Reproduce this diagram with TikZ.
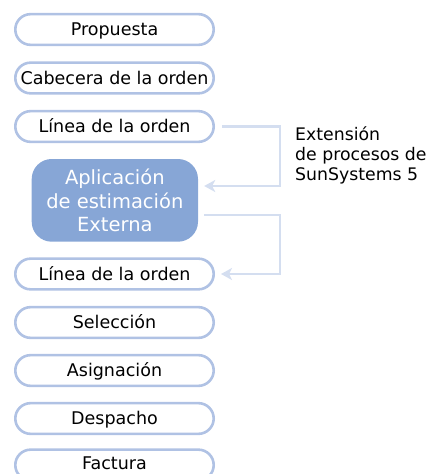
\documentclass[tikz,border=0pt]{standalone}
\usepackage{fontspec}
\setmainfont{DejaVu Sans}
\usepackage{tikz}
\usetikzlibrary{arrows.meta}
\definecolor{boxline}{RGB}{176,194,228}
\definecolor{appfill}{RGB}{135,166,214}
\definecolor{linkc}{RGB}{212,222,240}

\begin{document}
\begin{tikzpicture}[x=1pt,y=-1pt,
    paso/.style={draw=boxline,line width=2.6pt,rounded corners=15.3pt,fill=white,
      minimum width=198.4pt,minimum height=30.7pt,inner sep=0pt,
      font=\fontsize{17.5}{20}\selectfont,text height=14pt,text depth=1.4pt},
    app/.style={fill=appfill,rounded corners=20pt,minimum width=166.3pt,
      minimum height=82.7pt,inner sep=0pt,text=white,align=center,
      font=\fontsize{19.5}{23.7}\selectfont},
    link/.style={draw=linkc,line width=2.2pt,
      -{Stealth[length=11pt,width=12pt,inset=3pt]}}]
    \useasboundingbox (0,0) rectangle (430,474);
    \node[paso] (p) at (114.5, 29.5) {Propuesta};
    \node[paso] (c) at (114.5, 78) {Cabecera de la orden};
    \node[paso] (l1) at (114.5, 126.5) {Línea de la orden};
    \node[app] (ap) at (114.85, 200.35) {Aplicación\\de estimación\\Externa};
    \node[paso] (l2) at (114.5, 274) {Línea de la orden};
    \node[paso] (s) at (114.5, 322.5) {Selección};
    \node[paso] (as) at (114.5, 370.5) {Asignación};
    \node[paso] (d) at (114.5, 418.5) {Despacho};
    \node[paso,text height=8pt,text depth=0pt] (f) at (114.5, 465) {Factura};
    \node[anchor=west,align=left,inner sep=0pt,
      font=\fontsize{17.3}{20.2}\selectfont] (ext) at (295, 155.5)
      {Extensión\\de procesos de\\SunSystems 5};
    \coordinate (k1) at (280, 186);
    \coordinate (k2) at (280, 274);
    \draw [link] ([xshift=7pt]l1.east) -| (k1) -- ([xshift=6pt,yshift=14.35pt]ap.east);
    \draw [link] ([xshift=6pt,yshift=-14.65pt]ap.east) -| (k2) -- ([xshift=6pt]l2.east);
  \end{tikzpicture}
\end{document}
